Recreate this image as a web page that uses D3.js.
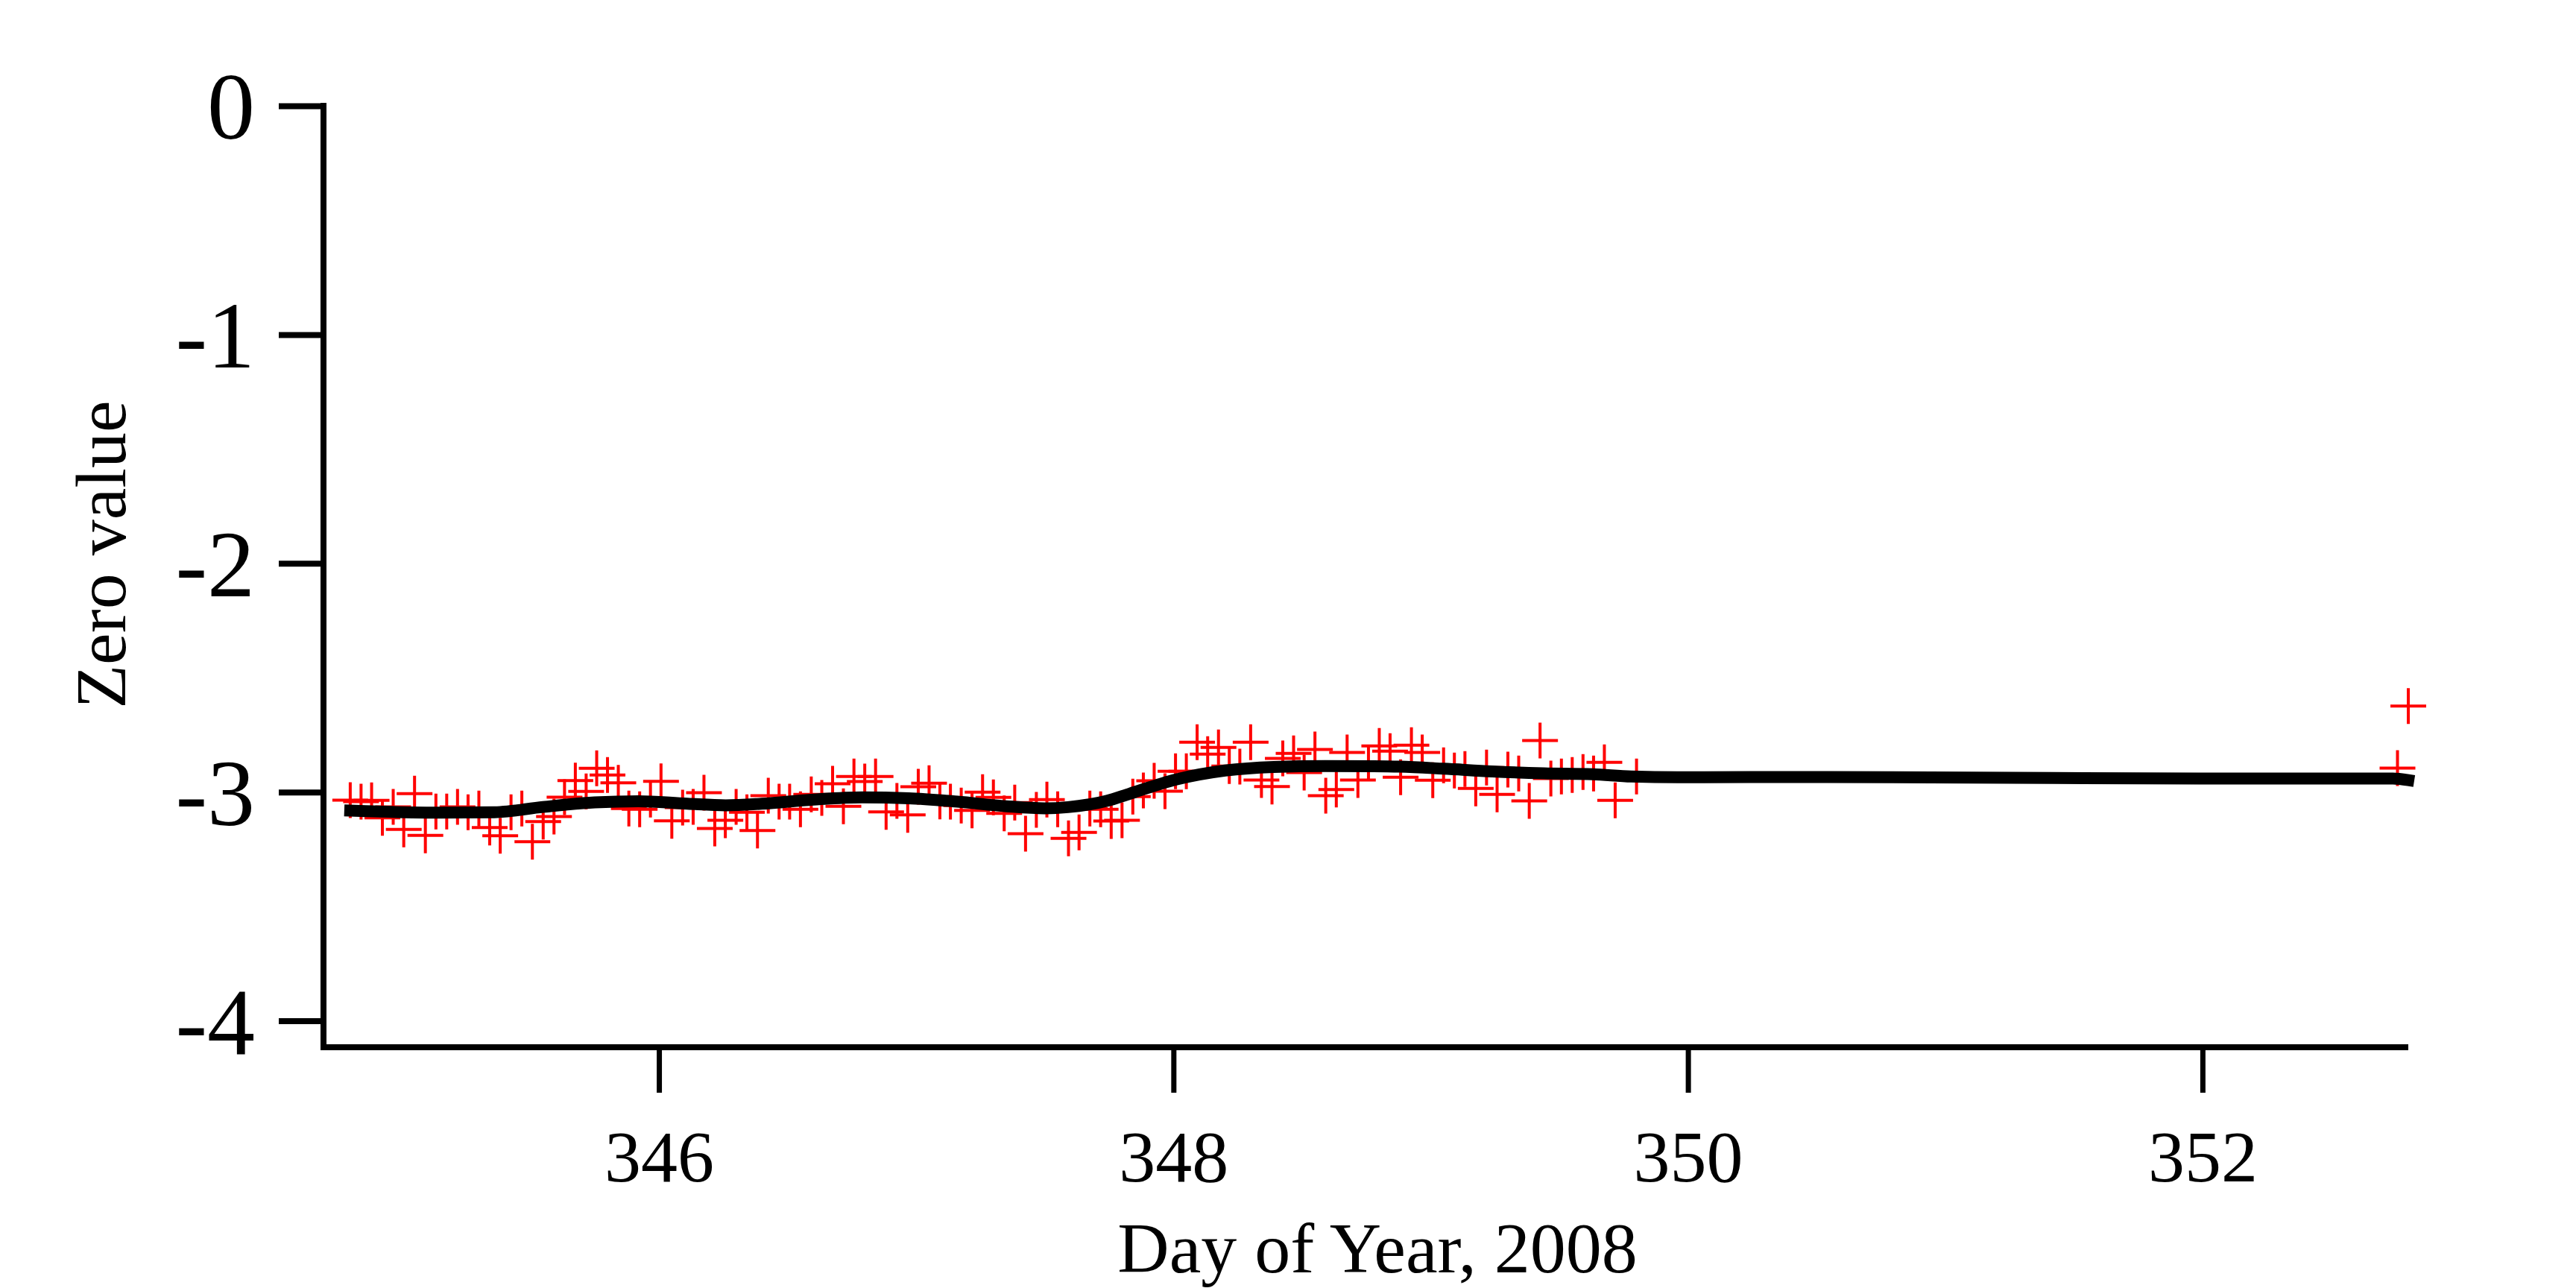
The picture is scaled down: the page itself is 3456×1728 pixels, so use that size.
<!DOCTYPE html>
<head>
  <meta charset="utf-8">
  <style>
    body { margin: 0; background: #fff; }
    text { font-family: "Liberation Serif", "Times New Roman", serif; fill: #000; }
  </style>
  <title>Zero value by Day of Year, 2008</title>
</head>

<body>

  <script src="https://cdn.jsdelivr.net/npm/d3@7/dist/d3.min.js"></script>

  <script>
    // hourly zero readings (red crosses)
    var obsDay = [
      344.800,344.842,344.883,344.925,344.967,345.008,345.050,345.092,345.133,345.175,345.217,345.258,
      345.300,345.342,345.383,345.425,345.467,345.508,345.550,345.592,345.633,345.675,345.717,345.758,
      345.800,345.842,345.883,345.925,345.967,346.008,346.050,346.092,346.133,346.175,346.217,346.258,
      346.300,346.342,346.383,346.425,346.467,346.508,346.550,346.592,346.633,346.675,346.717,346.758,
      346.800,346.842,346.883,346.925,346.967,347.008,347.050,347.092,347.133,347.175,347.217,347.258,
      347.300,347.342,347.383,347.425,347.467,347.508,347.550,347.592,347.633,347.675,347.717,347.758,
      347.800,347.842,347.883,347.925,347.967,348.008,348.050,348.092,348.133,348.175,348.217,348.258,
      348.300,348.342,348.383,348.425,348.467,348.508,348.550,348.592,348.633,348.675,348.717,348.758,
      348.800,348.842,348.883,348.925,348.967,349.008,349.050,349.092,349.133,349.175,349.217,349.258,
      349.300,349.342,349.383,349.425,349.467,349.508,349.550,349.592,349.633,349.675,349.717,
      349.800, 352.758, 352.800
    ];
    var obsZero = [
      -3.035,-3.042,-3.036,-3.113,-3.065,-3.163,-3.007,-3.189,-3.085,-3.085,-3.065,-3.088,
      -3.072,-3.155,-3.191,-3.088,-3.072,-3.217,-3.129,-3.107,-3.022,-2.950,-2.997,-2.896,
      -2.925,-2.960,-3.072,-3.075,-3.033,-2.953,-3.126,-3.068,-3.065,-3.003,-3.159,-3.123,
      -3.065,-3.088,-3.168,-3.016,-3.042,-3.042,-3.075,-3.010,-3.026,-2.964,-3.062,-2.932,
      -2.954,-2.932,-3.087,-3.039,-3.100,-2.977,-2.961,-3.041,-3.042,-3.059,-3.080,-3.000,
      -3.023,-3.093,-3.046,-3.182,-3.078,-3.033,-3.075,-3.202,-3.176,-3.072,-3.075,-3.127,
      -3.123,-3.020,-2.993,-2.951,-2.996,-2.909,-2.909,-2.782,-2.834,-2.805,-2.886,-2.889,
      -2.782,-2.947,-2.976,-2.853,-2.831,-2.915,-2.814,-3.016,-2.989,-2.827,-2.947,-2.873,
      -2.798,-2.821,-2.935,-2.795,-2.827,-2.948,-2.883,-2.906,-2.899,-2.984,-2.893,-3.010,
      -2.902,-2.919,-3.039,-2.775,-2.941,-2.932,-2.925,-2.912,-2.919,-2.870,-3.036,
      -2.932, -2.895, -2.624
    ];

    // smoothed curve (thick black line)
    var fitDay = [344.80, 345.14, 345.36, 345.55, 345.75, 345.92, 346.11, 346.26, 346.40, 346.60,
                  346.79, 346.97, 347.16, 347.35, 347.50, 347.59, 347.74, 347.83, 348.01, 348.20,
                  348.39, 348.59, 348.78, 348.88, 349.05, 349.24, 349.44, 349.63, 349.78, 349.96,
                  350.53, 351.26, 352.02, 352.74, 352.80];
    var fitZero = [-3.081, -3.090, -3.088, -3.065, -3.045, -3.040, -3.051, -3.058, -3.051, -3.033,
                   -3.023, -3.027, -3.042, -3.062, -3.071, -3.066, -3.039, -3.007, -2.945, -2.906,
                   -2.890, -2.886, -2.887, -2.889, -2.898, -2.910, -2.918, -2.922, -2.932, -2.935,
                   -2.934, -2.938, -2.941, -2.941, -2.948];

    var xTicks = [346, 348, 350, 352];
    var yTicks = [0, -1, -2, -3, -4];

    var svg = d3.select("body").append("svg")
      .attr("width", 3456)
      .attr("height", 1728);

    // plot frame (pixels)
    var plotL = 434, plotR = 3231, plotT = 142, plotB = 1405;

    var x = d3.scaleLinear().domain([344.696, 352.80]).range([plotL, plotR]);
    var y = d3.scaleLinear().domain([-4.1156, 0]).range([plotB, plotT]);

    // crosses (drawn first, the fit sits on top of them)
    var s = 24;
    svg.append("g").attr("id", "points").selectAll("path")
      .data(obsDay)
      .enter()
      .append("path")
      .attr("d", function(d, i) {
        var px = x(d), py = y(obsZero[i]);
        return "M" + (px - s) + "," + py + "H" + (px + s) + "M" + px + "," + (py - s) + "V" + (py + s);
      })
      .attr("stroke", "#ff0000")
      .attr("stroke-width", 4)
      .attr("fill", "none");

    // fitted line
    var line = d3.line()
      .x(function(d, i) { return x(fitDay[i]); })
      .y(function(d, i) { return y(fitZero[i]); })
      .curve(d3.curveMonotoneX);

    svg.append("path")
      .datum(fitDay)
      .attr("d", line)
      .attr("fill", "none")
      .attr("stroke", "#000")
      .attr("stroke-width", 16)
      .attr("stroke-linecap", "square")
      .attr("stroke-linejoin", "round");

    // Y axis
    var yAxis = svg.append("g").attr("id", "y_axis")
      .attr("transform", "translate(" + plotL + ",0)")
      .call(d3.axisLeft(y).tickValues(yTicks).tickSize(60).tickSizeOuter(0).tickPadding(32)
        .tickFormat(function(d) { return String(d); }));
    yAxis.select(".domain").attr("stroke-width", 8).attr("d", "M0," + (plotT - 4) + "V" + (plotB + 4));
    yAxis.selectAll(".tick line").attr("stroke-width", 8);
    yAxis.selectAll(".tick text")
      .attr("font-size", 128)
      .attr("font-family", "Liberation Serif")
      .attr("dy", "0.34em");

    // X axis
    var xAxis = svg.append("g").attr("id", "x_axis")
      .attr("transform", "translate(0," + plotB + ")")
      .call(d3.axisBottom(x).tickValues(xTicks).tickSize(61).tickSizeOuter(0)
        .tickFormat(function(d) { return String(d); }));
    xAxis.select(".domain").attr("stroke-width", 8).attr("d", "M" + (plotL - 4) + ",0H" + plotR);
    xAxis.selectAll(".tick line").attr("stroke-width", 7);
    xAxis.selectAll(".tick text")
      .attr("font-size", 98)
      .attr("font-family", "Liberation Serif")
      .attr("y", 180)
      .attr("dy", 0);

    // axis titles
    svg.append("text").attr("id", "x_axis_label")
      .attr("x", 1848)
      .attr("y", 1707)
      .attr("text-anchor", "middle")
      .attr("font-size", 96)
      .text("Day of Year, 2008");

    svg.append("text").attr("id", "y_axis_label")
      .attr("transform", "translate(168,744) rotate(-90)")
      .attr("text-anchor", "middle")
      .attr("font-size", 96)
      .text("Zero value");
  </script>

</body>
